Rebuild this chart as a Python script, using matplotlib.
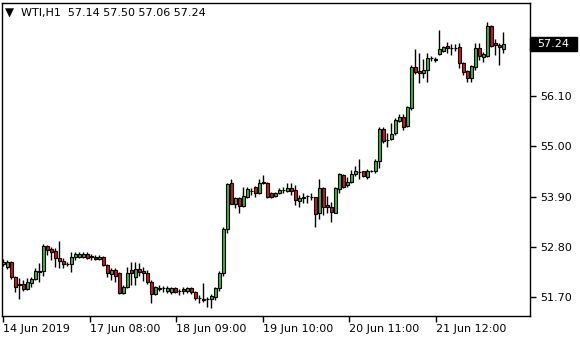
import matplotlib
matplotlib.use("Agg")
import matplotlib.pyplot as plt
from matplotlib.patches import Rectangle
import numpy as np

opens = [52.42, 52.36, 52.47, 52.14, 51.96, 51.99, 51.88, 52.01, 52.09, 52.25,
         52.27, 52.82, 52.75, 52.71, 52.56, 52.49, 52.42, 52.42, 52.58, 52.58,
         52.58, 52.64, 52.60, 52.58, 52.53, 52.58, 52.40, 52.20, 52.29, 52.23,
         51.79, 51.92, 52.29, 52.14, 52.31, 52.27, 52.23, 52.03, 51.77, 51.88,
         51.90, 51.83, 51.81, 51.90, 51.83, 51.88, 51.83, 51.90, 51.81, 51.68,
         51.66, 51.66, 51.66, 51.70, 51.90, 52.23, 53.19, 54.20, 53.74, 53.87,
         53.70, 53.89, 54.02, 54.11, 53.98, 54.20, 54.20, 53.98, 53.91, 53.98,
         54.05, 54.02, 54.09, 54.05, 53.81, 53.87, 53.91, 53.89, 53.89, 53.54,
         54.09, 53.72, 53.67, 53.54, 54.07, 54.38, 54.16, 54.22, 54.40, 54.44,
         54.46, 54.33, 54.46, 54.46, 54.68, 55.38, 55.14, 55.16, 55.30, 55.56,
         55.65, 55.45, 55.84, 56.74, 56.66, 56.61, 56.68, 56.94, 56.90, 57.03,
         57.09, 57.20, 57.16, 57.16, 57.18, 56.83, 56.66, 56.50, 56.74, 57.16,
         56.96, 56.99, 57.64, 57.27, 57.23, 57.14]
highs = [52.53, 52.51, 52.48, 52.16, 52.12, 52.07, 52.12, 52.14, 52.34, 52.45,
         52.86, 52.84, 52.80, 52.77, 52.93, 52.56, 52.47, 52.69, 52.69, 52.69,
         52.69, 52.69, 52.64, 52.62, 52.62, 52.60, 52.42, 52.34, 52.34, 52.25,
         51.96, 52.36, 52.47, 52.47, 52.45, 52.36, 52.29, 52.07, 51.94, 51.96,
         51.94, 51.94, 51.92, 51.92, 51.88, 51.92, 51.92, 51.92, 51.83, 51.74,
         52.01, 51.70, 51.77, 51.92, 52.27, 53.24, 54.20, 54.29, 53.89, 53.89,
         54.11, 54.11, 54.09, 54.13, 54.29, 54.38, 54.21, 53.99, 54.00, 54.09,
         54.11, 54.20, 54.20, 54.16, 53.94, 53.98, 53.94, 53.98, 53.90, 54.29,
         54.10, 53.91, 53.78, 54.11, 54.42, 54.39, 54.33, 54.49, 54.57, 54.73,
         54.47, 54.51, 54.49, 54.73, 55.43, 55.43, 55.30, 55.52, 55.63, 55.71,
         55.71, 55.89, 56.79, 57.14, 57.05, 56.92, 57.05, 56.99, 56.96, 57.55,
         57.20, 57.29, 57.25, 57.25, 57.27, 56.85, 56.68, 56.79, 57.27, 57.27,
         57.07, 57.73, 57.66, 57.36, 57.27, 57.50]
lows = [52.38, 52.31, 52.09, 51.81, 51.66, 51.83, 51.85, 51.92, 52.07, 52.03,
        52.16, 52.62, 52.51, 52.36, 52.34, 52.34, 52.38, 52.25, 52.51, 52.56,
        52.56, 52.53, 52.51, 52.51, 52.51, 52.38, 52.14, 52.07, 52.03, 51.77,
        51.77, 51.90, 51.96, 51.96, 52.16, 52.05, 51.99, 51.57, 51.74, 51.83,
        51.81, 51.79, 51.77, 51.79, 51.74, 51.77, 51.79, 51.77, 51.63, 51.57,
        51.59, 51.48, 51.46, 51.63, 51.83, 52.16, 53.10, 53.74, 53.65, 53.54,
        53.67, 53.87, 53.94, 53.89, 53.96, 54.18, 53.87, 53.87, 53.89, 53.96,
        53.98, 54.00, 53.94, 53.72, 53.67, 53.76, 53.76, 53.83, 53.24, 53.41,
        53.50, 53.54, 53.34, 53.53, 53.98, 54.09, 54.11, 54.20, 54.35, 54.29,
        54.33, 54.29, 54.44, 54.42, 54.53, 55.08, 54.99, 55.14, 55.25, 55.54,
        55.36, 55.43, 55.80, 56.59, 56.39, 56.50, 56.41, 56.88, 56.85, 57.01,
        57.07, 57.05, 57.01, 57.09, 56.72, 56.57, 56.41, 56.41, 56.68, 56.90,
        56.85, 56.96, 57.18, 57.01, 56.79, 57.06]
closes = [52.47, 52.47, 52.14, 51.92, 51.99, 51.88, 52.03, 52.09, 52.27, 52.27,
          52.82, 52.73, 52.69, 52.56, 52.49, 52.42, 52.41, 52.58, 52.64, 52.64,
          52.64, 52.56, 52.58, 52.53, 52.58, 52.40, 52.23, 52.29, 52.16, 51.79,
          51.92, 52.23, 52.23, 52.31, 52.25, 52.23, 52.03, 51.77, 51.92, 51.90,
          51.89, 51.90, 51.90, 51.81, 51.82, 51.83, 51.90, 51.81, 51.68, 51.67,
          51.64, 51.65, 51.72, 51.90, 52.23, 53.19, 54.18, 53.73, 53.87, 53.70,
          53.91, 54.07, 54.03, 53.98, 54.20, 54.21, 53.89, 53.89, 53.98, 54.05,
          54.04, 54.09, 54.02, 53.83, 53.87, 53.89, 53.92, 53.90, 53.52, 54.09,
          53.67, 53.67, 53.56, 54.09, 54.40, 54.11, 54.22, 54.40, 54.46, 54.45,
          54.35, 54.46, 54.47, 54.68, 55.38, 55.12, 55.15, 55.27, 55.58, 55.65,
          55.43, 55.87, 56.74, 56.63, 56.61, 56.68, 56.94, 56.95, 56.91, 57.14,
          57.18, 57.16, 57.17, 57.17, 56.83, 56.63, 56.50, 56.77, 57.16, 56.99,
          57.03, 57.64, 57.20, 57.23, 57.18, 57.24]

price_ticks = [51.70, 52.80, 53.90, 55.00, 56.10]
date_labels = ["14 Jun 2019", "17 Jun 08:00", "18 Jun 09:00",
               "19 Jun 10:00", "20 Jun 11:00", "21 Jun 12:00"]
date_tick_bars = [0, 21.7, 43.3, 65.0, 86.6, 108.3]
symbol = "WTI,H1"

o = np.array(opens); h = np.array(highs); l = np.array(lows); c = np.array(closes)
x = np.arange(len(o))

plt.rcParams['font.family'] = ['DejaVu Sans']
fig = plt.figure(figsize=(5.8, 3.4), dpi=100)
ax = fig.add_axes([2/580, 1-316/340, 528/580, 313/340])

up = c >= o
colors = np.where(up, '#3cb43c', '#e01010')
ax.vlines(x, l, h, color='black', linewidth=1.0, zorder=2)
body_h = np.maximum(np.abs(c - o), 0.004)
ax.bar(x, body_h, bottom=np.minimum(o, c), width=0.75, color=colors,
       edgecolor='black', linewidth=0.8, zorder=3)

ax.set_xlim(-0.25, 131.75)
ax.set_ylim(51.28, 58.147)

ax.yaxis.tick_right()
ax.set_yticks(price_ticks)
ax.set_yticklabels([f"{v:.2f}" for v in price_ticks])
ax.set_xticks(date_tick_bars)
ax.set_xticklabels(date_labels, ha='left')
ax.tick_params(axis='both', direction='out', length=4, width=1, color='black',
               labelsize=8, labelcolor='black', pad=2)
ax.tick_params(axis='y', pad=3)
for s in ax.spines.values():
    s.set_color('black'); s.set_linewidth(1.0)

# header
ax.text(0.005, 0.968, "\u25bc", transform=ax.transAxes, fontsize=8.5,
        va='center', ha='left', color='black')
ax.text(0.036, 0.968, f"{symbol}  {opens[-1]:.2f} {highs[-1]:.2f} {lows[-1]:.2f} {closes[-1]:.2f}",
        transform=ax.transAxes, fontsize=8, va='center', ha='left', color='black')

# current price label (black box at the right edge of the plot)
trans = ax.get_yaxis_transform()
half_h = 7.0 / 313 * (58.147 - 51.28)
ax.add_patch(Rectangle((1.0, closes[-1] - half_h), 47 / 528, 2 * half_h,
                       transform=trans, facecolor='black', edgecolor='black',
                       clip_on=False, zorder=5))
ax.text(1.0 + 7 / 528, closes[-1], f"{closes[-1]:.2f}", transform=trans,
        fontsize=8, color='white', va='center', ha='left', zorder=6, clip_on=False)

fig.savefig("out.png", dpi=100, facecolor='white')
